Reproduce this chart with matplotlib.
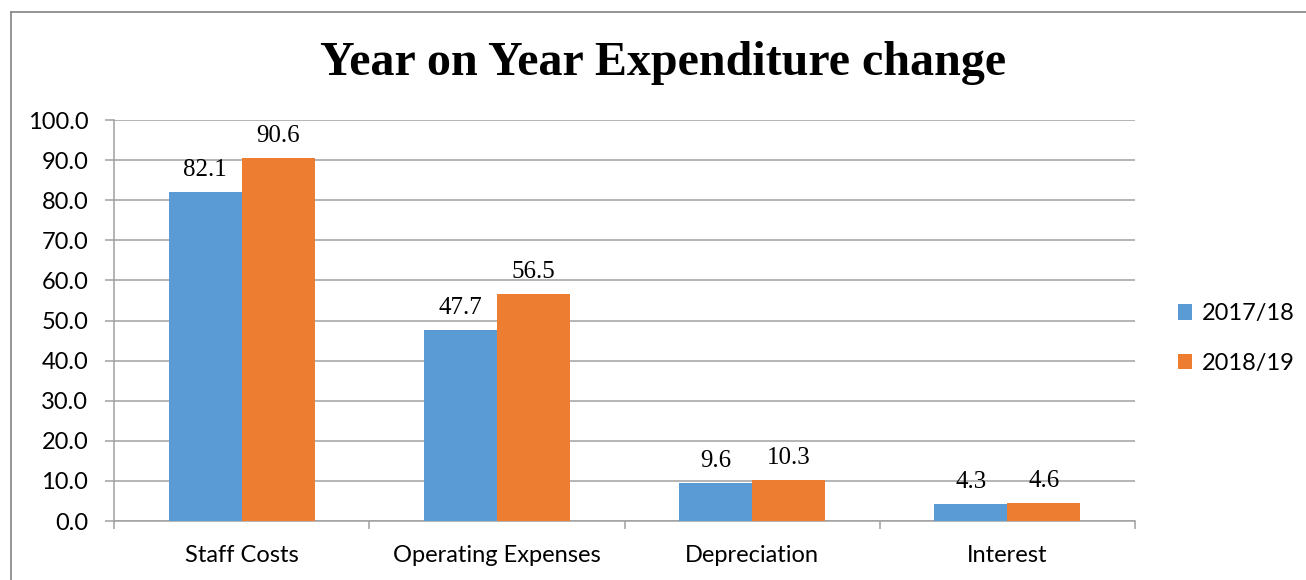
import numpy as np
import matplotlib.pyplot as plt
from matplotlib.lines import Line2D

categories = ["Staff Costs", "Operating Expenses", "Depreciation", "Interest"]
series_names = ["2017/18", "2018/19"]
values_1718 = [82.1, 47.7, 9.6, 4.3]
values_1819 = [90.6, 56.5, 10.3, 4.6]

colors = ["#5B9BD5", "#ED7D31"]
grid_col = "#A0A0A0"

fig = plt.figure(figsize=(13.06, 5.8), dpi=100)
ax = fig.add_axes([0.0873, 0.1017, 0.7818, 0.6914])

x = np.arange(len(categories))
width = 0.286
for i, (vals, name) in enumerate(zip([values_1718, values_1819], series_names)):
    b = ax.bar(x + (i - 0.5) * width, vals, width, color=colors[i], label=name, zorder=3)
    for rect, v in zip(b, vals):
        ax.annotate(f"{v:.1f}", (rect.get_x() + rect.get_width() / 2, v),
                    xytext=(0, 11.5), textcoords="offset points",
                    ha="center", va="baseline", fontsize=18,
                    family="Liberation Serif", zorder=4)

ax.set_xlim(-0.5, len(categories) - 0.5)
ax.set_ylim(0, 100)
ax.set_yticks(np.arange(0, 101, 10))
ax.set_yticklabels([f"{t:.1f}" for t in np.arange(0, 101, 10)], family="Lato", fontsize=17)
ax.set_xticks(np.arange(-0.5, len(categories), 1.0))
ax.set_xticklabels([])
ax.set_xticks(x, minor=True)
ax.set_xticklabels(categories, minor=True, family="Lato", fontsize=17)
ax.tick_params(axis="x", which="minor", length=0, pad=17)
ax.tick_params(axis="x", which="major", length=6, width=1.1, color=grid_col, direction="out")
ax.tick_params(axis="y", length=6.5, width=1.1, color=grid_col, pad=12)

ax.grid(axis="y", color=grid_col, linewidth=1.1, zorder=0)
for s in ["top", "right"]:
    ax.spines[s].set_visible(False)
for s in ["left", "bottom"]:
    ax.spines[s].set_color(grid_col)
    ax.spines[s].set_linewidth(1.1)

ax.legend(loc="center left", bbox_to_anchor=(1.021, 0.455), frameon=False,
          prop={"family": "Lato", "size": 17}, handlelength=0.62, handleheight=0.62,
          handletextpad=0.4, labelspacing=1.2)

fig.text(0.5077, 1 - 63 / 580, "Year on Year Expenditure change", ha="center", va="center",
         family="Liberation Serif", fontweight="bold", fontsize=34.6)

# outer chart frame (left and top edges visible)
fig.add_artist(Line2D([10.5 / 1306, 10.5 / 1306], [0, 1 - 11.5 / 580], transform=fig.transFigure,
                      color="#8C8C8C", linewidth=1.3))
fig.add_artist(Line2D([10.5 / 1306, 1], [1 - 11.5 / 580, 1 - 11.5 / 580], transform=fig.transFigure,
                      color="#8C8C8C", linewidth=1.3))

fig.savefig("out.png", dpi=100)
